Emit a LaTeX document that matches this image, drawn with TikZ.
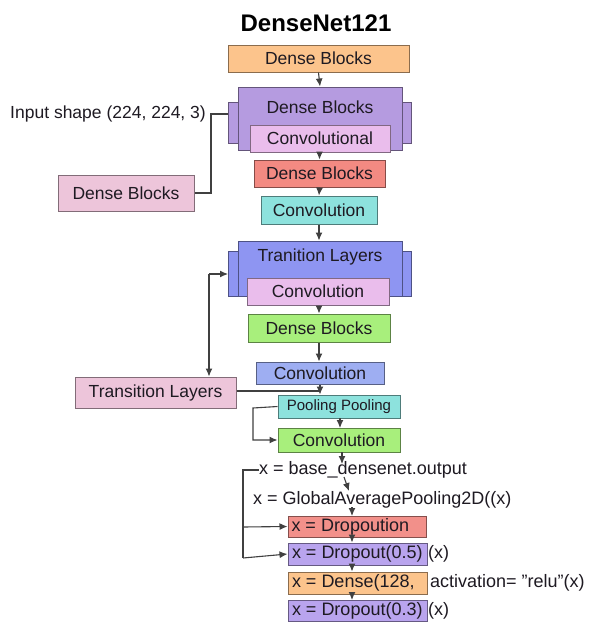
\documentclass[tikz,border=0pt]{standalone}
\usepackage{fontspec}
\setmainfont{Liberation Sans}
\usetikzlibrary{arrows.meta}
\definecolor{txt}{HTML}{1E1A22}
\definecolor{cOrange}{HTML}{FCC48C}
\definecolor{cPurple}{HTML}{B59BE0}
\definecolor{cPink}{HTML}{EABDEC}
\definecolor{cSalmon}{HTML}{F38A82}
\definecolor{cCyan}{HTML}{8DE2DD}
\definecolor{cBlue}{HTML}{8E95F2}
\definecolor{cGreen}{HTML}{A8EF7C}
\definecolor{cBlueConv}{HTML}{9EAEF2}
\definecolor{cRose}{HTML}{EDC5DA}
\definecolor{cRed}{HTML}{F2908A}
\definecolor{cLilac}{HTML}{B9A4EE}
\newcommand{\lefttxt}[1]{\makebox[131pt][l]{#1}}
\tikzset{
  box/.style={draw=#1!55!black, line width=1pt, inner sep=0pt, text=txt, font=\fontsize{17.5}{18}\selectfont},
  lbl/.style={inner sep=0pt, text=txt, font=\fontsize{17.5}{18}\selectfont},
  code/.style={font=\fontsize{18}{19}\selectfont},
  conn/.style={draw=black!75, line width=1.1pt},
  arr/.style={conn, -{Latex[length=8pt,width=7pt]}},
  tab/.style={draw=#1!55!black, line width=1pt, fill=#1},
}
\begin{document}
\begin{tikzpicture}[x=1pt,y=-1pt]
\useasboundingbox (0,0) rectangle (592,622);
\fill[white] (0,0) rectangle (592,622);
% title
\node[inner sep=0pt, font=\bfseries\fontsize{24}{26}\selectfont] (title) at (316,23) {DenseNet121};
% top orange
\node[box=cOrange, fill=cOrange, minimum width=181pt, minimum height=27pt] (d1) at (318.5,58.5) {Dense Blocks};
% purple group
\draw[tab=cPurple] (228,102) rectangle (240,143);
\draw[tab=cPurple] (400,102) rectangle (411,143);
\node[box=cPurple, fill=cPurple, minimum width=164pt, minimum height=63pt] (d2) at (320,118.5) {};
\node[lbl] (d2t) at (320,107) {Dense Blocks};
\node[box=cPink, fill=cPink, minimum width=140pt, minimum height=27pt] (c1) at (320,138.5) {Convolutional};
% red
\node[box=cSalmon, fill=cSalmon, minimum width=131pt, minimum height=27pt] (d3) at (319.5,173.5) {Dense Blocks};
% cyan
\node[box=cCyan, fill=cCyan, minimum width=116pt, minimum height=28pt] (c2) at (319,210) {Convolution};
% blue group
\draw[tab=cBlue] (228,251) rectangle (240,296);
\draw[tab=cBlue] (400,251) rectangle (411,296);
\node[box=cBlue, fill=cBlue, minimum width=164pt, minimum height=55pt] (t1) at (320,268.5) {};
\node[lbl] (t1t) at (320,257) {Tranition Layers};
\node[box=cPink, fill=cPink, minimum width=142pt, minimum height=27pt] (c3) at (318,291.5) {Convolution};
% green
\node[box=cGreen, fill=cGreen, minimum width=142pt, minimum height=28pt] (d4) at (319,328) {Dense Blocks};
% blue conv
\node[box=cBlueConv, fill=cBlueConv, minimum width=128pt, minimum height=22pt] (c4) at (320,373) {Convolution};
% left side boxes
\node[box=cRose, fill=cRose, minimum width=136pt, minimum height=36pt] (dl) at (126,193) {Dense Blocks};
\node[box=cRose, fill=cRose, minimum width=161pt, minimum height=31pt] (tl) at (155.5,392.5) {Transition Layers};
\node[lbl, anchor=east] (inp) at (206,114) {Input shape (224, 224, 3)};
% pooling & conv
\node[box=cCyan, fill=cCyan, minimum width=122pt, minimum height=23pt, font=\fontsize{15}{16}\selectfont] (pp) at (339,406.5) {Pooling Pooling};
\node[box=cGreen, fill=cGreen, minimum width=122pt, minimum height=24pt] (c5) at (339,440) {Convolution};
% code lines
\node[lbl, code, anchor=west] (base) at (259,470) {x = base\_densenet.output};
\node[lbl, code, anchor=west] (gap) at (253,500) {x = GlobalAveragePooling2D((x)};
\node[box=cRed, fill=cRed, code, minimum width=138pt, minimum height=21pt] (b1) at (357,526.5) {\lefttxt{x = Dropoution}};
\node[box=cLilac, fill=cLilac, code, minimum width=139pt, minimum height=22pt] (b2) at (357.5,554) {\lefttxt{x = Dropout(0.5)}};
\node[lbl, code, anchor=west] (b2x) at (428,554) {(x)};
\node[box=cOrange, fill=cOrange, code, minimum width=139pt, minimum height=22pt] (b3) at (357.5,583) {\lefttxt{x = Dense(128,}};
\node[lbl, code, anchor=west] (b3x) at (430,583) {activation= \symbol{34}relu\symbol{34}(x)};
\node[box=cLilac, fill=cLilac, code, minimum width=139pt, minimum height=21pt] (b4) at (357.5,611) {\lefttxt{x = Dropout(0.3)}};
\node[lbl, code, anchor=west] (b4x) at (428,611) {(x)};
% coordinates
\coordinate (inA) at (211,114);
\coordinate (tlA) at (209,274);
\coordinate (loopP) at (253,408);
\coordinate (loopB) at (243,470);
% connectors main chain
\draw[arr] (d1.south) -- (d2.north);
\draw[arr] (c1.south -| d3.north) -- (d3.north);
\draw[arr] (d3.south) -- (c2.south |- c2.north);
\draw[arr] (c2.south) -- (c2.south |- t1.north);
\draw[arr] (c3.south -| d4.north) -- (d4.north);
\draw[arr] (d4.south) -- (d4.south |- c4.north);
\draw[arr] (c4.south) -- (c4.south |- pp.north);
\draw[conn] (tl.east |- 0,391) -- (c4.south |- 0,391);
\draw[arr] (340,418) -- (340,428);
\draw[arr] (pp.west) -- (loopP) |- (c5.west);
\draw[arr] (342,452) -- (342,464);
\draw[arr] (344,477) -- (349,491);
\draw[arr] (352,507) -- (352,516);
\draw[arr] (b1.south -| 352,0) -- (b2.north -| 352,0);
\draw[arr] (b2.south -| 352,0) -- (b3.north -| 352,0);
\draw[arr] (b3.south -| 352,0) -- (b4.north -| 352,0);
% left loops
\draw[conn] (228,114) -- (inA) |- (dl.east);
\draw[arr] (tlA) -- (228,274);
\draw[arr] (tlA) -- (tlA |- tl.north);
\draw[conn] (base.west) -- (loopB) -- (243,558);
\draw[arr] (243,527) -- (b1.west);
\draw[arr] (243,558) -- (b2.west);
\end{tikzpicture}
\end{document}
